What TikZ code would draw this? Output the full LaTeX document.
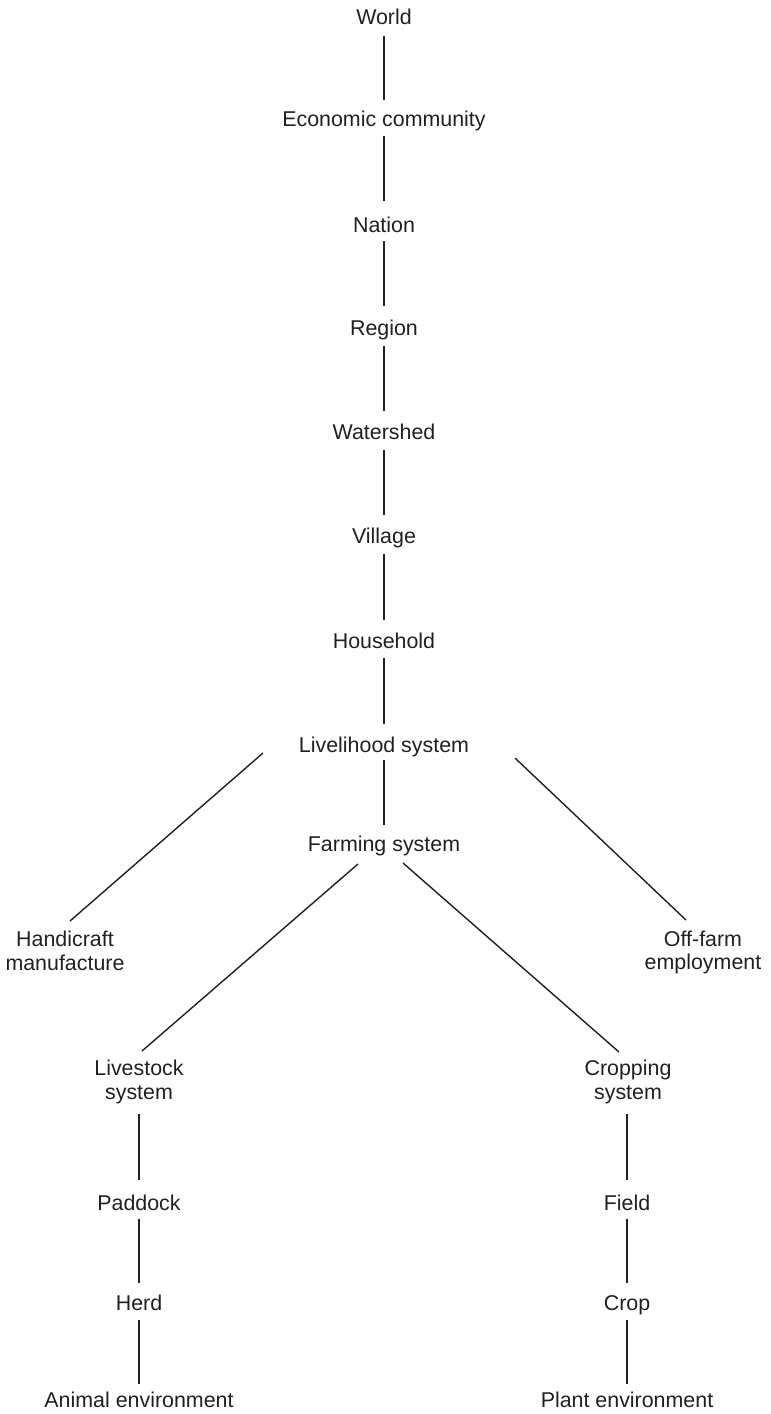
\documentclass[tikz,border=0pt]{standalone}
\usepackage{fontspec}
\setmainfont{Liberation Sans}
\usetikzlibrary{calc}
\definecolor{ink}{HTML}{231F20}
\begin{document}
\begin{tikzpicture}[x=1pt,y=-1pt,
  lbl/.style={inner sep=0pt, outer sep=0pt, text=ink, font=\fontsize{21.4}{23.5}\selectfont, anchor=base},
  lbltwo/.style={lbl, align=center, anchor=north},
  conn/.style={draw=ink, line width=1.4pt}]
\useasboundingbox (0,0) rectangle (771,1414);
% main column
\node[lbl] (world) at (384,24) {World};
\node[lbl] (econ) at (384,126) {Economic community};
\node[lbl] (nation) at (384,232) {Nation};
\node[lbl] (region) at (384,335) {Region};
\node[lbl] (water) at (384,439) {Watershed};
\node[lbl] (village) at (384,543) {Village};
\node[lbl] (house) at (384,648) {Household};
\node[lbl] (live) at (384,752) {Livelihood system};
\node[lbl] (farm) at (384,851) {Farming system};
% branches
\node[lbltwo] (hand) at (65,931) {Handicraft\\manufacture};
\node[lbltwo] (off) at (703,931) {Off-farm\\employment};
\node[lbltwo] (stock) at (139,1060) {Livestock\\system};
\node[lbltwo] (cropsys) at (628,1060) {Cropping\\system};
\node[lbl] (paddock) at (139,1210) {Paddock};
\node[lbl] (field) at (627,1210) {Field};
\node[lbl] (herd) at (139,1310) {Herd};
\node[lbl] (crop) at (627,1310) {Crop};
\node[lbl] (animal) at (139,1407) {Animal environment};
\node[lbl] (plant) at (627,1407) {Plant environment};
% vertical connectors
\foreach \a/\b/\s/\e in {world/econ/12/-26, econ/nation/10/-31, nation/region/9/-29,
  region/water/11/-28, water/village/11/-28, village/house/11/-28,
  house/live/10/-28, live/farm/8/-26,
  paddock/herd/9/-27, herd/animal/10/-23,
  field/crop/9/-27, crop/plant/10/-23}
  \draw[conn] ($(\a.base)+(0,\s)$) -- ($(\b.base)+(0,\e)$);
\draw[conn] ($(stock.south)+(0,11)$) -- ($(paddock.base)+(0,-30)$);
\draw[conn] ($(cropsys.south)+(-1,11)$) -- ($(field.base)+(0,-30)$);
% diagonal connectors
\draw[conn] ($(live.base)+(-121,1)$) -- ($(hand.north)+(5,-10)$);
\draw[conn] ($(live.base)+(131,6)$) -- ($(off.north)+(-17,-11)$);
\draw[conn] ($(farm.base)+(-26,13)$) -- ($(stock.north)+(3,-9)$);
\draw[conn] ($(farm.base)+(19,12)$) -- ($(cropsys.north)+(-9,-8)$);
\end{tikzpicture}
\end{document}
